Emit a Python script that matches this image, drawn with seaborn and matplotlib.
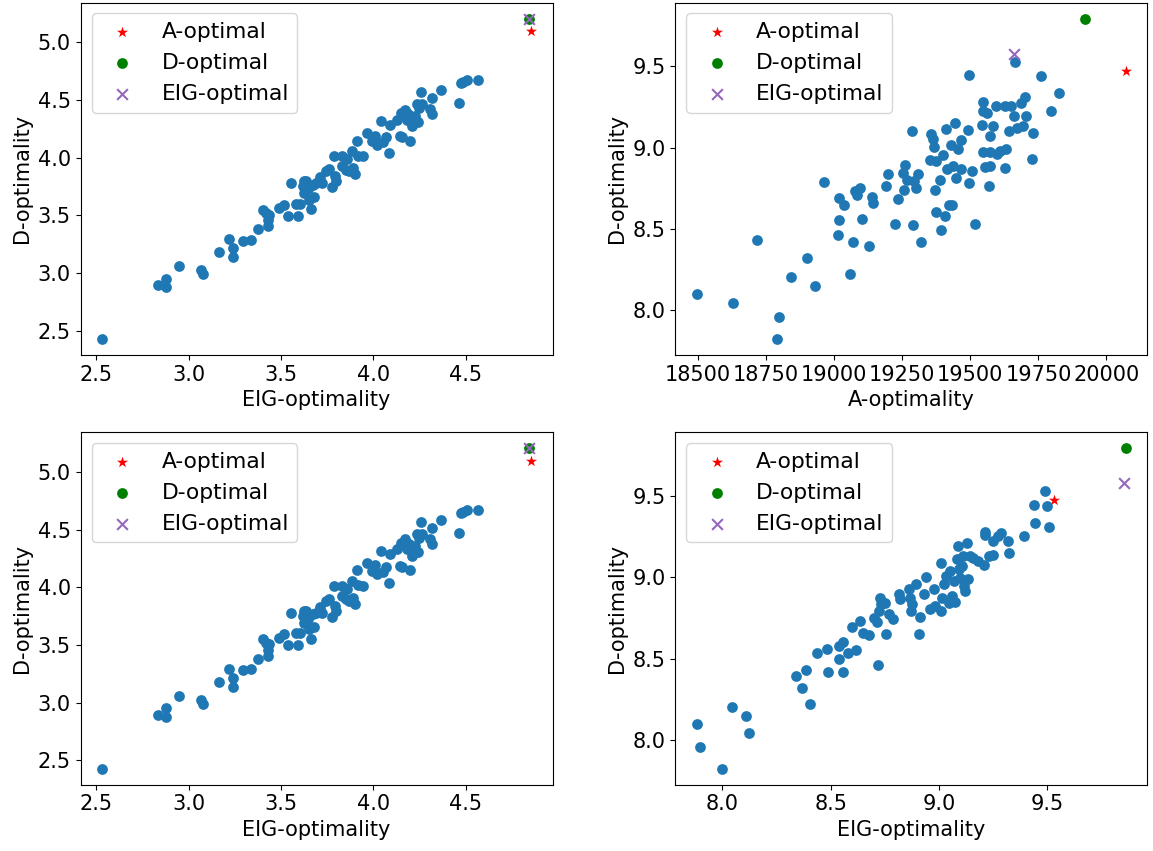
import numpy as np
import seaborn as sns
import matplotlib.pyplot as plt

# left column (same data in both rows): EIG-optimality vs D-optimality
eig1 = [2.532, 2.833, 2.878, 2.875, 2.950, 3.068, 3.077, 3.163, 3.221, 3.239,
        3.239, 3.296, 3.338, 3.374, 3.405, 3.419, 3.437, 3.428, 3.428, 3.491,
        3.514, 3.536, 3.554, 3.581, 3.595, 3.603, 3.617, 3.626, 3.635, 3.644,
        3.653, 3.662, 3.671, 3.677, 3.689, 3.713, 3.725, 3.743, 3.761, 3.775,
        3.785, 3.791, 3.797, 3.830, 3.832, 3.850, 3.860, 3.866, 3.887, 3.892,
        3.899, 3.914, 3.919, 3.947, 3.968, 3.995, 4.010, 4.019, 4.041, 4.055,
        4.068, 4.086, 4.091, 4.127, 4.143, 4.152, 4.158, 4.173, 4.185, 4.194,
        4.197, 4.212, 4.224, 4.235, 4.244, 4.248, 4.257, 4.266, 4.307, 4.316,
        4.320, 4.365, 4.464, 4.473, 4.486, 4.505, 4.568, 3.626, 4.185, 4.203]
d1 = [2.428, 2.893, 2.951, 2.876, 3.058, 3.023, 2.991, 3.182, 3.295, 3.214,
      3.139, 3.280, 3.289, 3.379, 3.549, 3.520, 3.506, 3.454, 3.405, 3.564,
      3.592, 3.497, 3.780, 3.601, 3.497, 3.601, 3.751, 3.694, 3.795, 3.723,
      3.636, 3.555, 3.766, 3.656, 3.780, 3.832, 3.780, 3.882, 3.902, 3.743,
      4.012, 3.838, 3.795, 4.012, 3.925, 3.896, 3.983, 3.882, 4.055, 3.910,
      3.853, 4.147, 4.017, 4.012, 4.214, 4.142, 4.191, 4.113, 4.315, 4.133,
      4.176, 4.040, 4.286, 4.329, 4.185, 4.387, 4.179, 4.416, 4.329, 4.373,
      4.147, 4.272, 4.358, 4.460, 4.306, 4.431, 4.566, 4.460, 4.422, 4.517,
      4.379, 4.584, 4.474, 4.647, 4.653, 4.668, 4.668, 3.795, 4.387, 4.315]

# top right: A-optimality vs D-optimality
aopt2 = [18495, 18628, 18715, 18797, 18788, 18842, 18901, 18931, 18962, 19013,
         19019, 19019, 19037, 19057, 19068, 19078, 19084, 19096, 19102, 19127,
         19139, 19142, 19190, 19196, 19222, 19233, 19252, 19255, 19261, 19267,
         19285, 19289, 19294, 19301, 19307, 19320, 19350, 19355, 19362, 19365,
         19371, 19374, 19374, 19389, 19393, 19399, 19407, 19411, 19416, 19423,
         19432, 19428, 19437, 19443, 19447, 19455, 19467, 19467, 19492, 19495,
         19495, 19507, 19516, 19541, 19545, 19547, 19560, 19547, 19553, 19569,
         19571, 19571, 19571, 19584, 19596, 19599, 19608, 19626, 19626, 19632,
         19642, 19648, 19660, 19665, 19672, 19687, 19694, 19700, 19704, 19725,
         19729, 19759, 19795, 19825]
d2 = [8.102, 8.043, 8.430, 7.961, 7.826, 8.207, 8.323, 8.150, 8.788, 8.463,
      8.553, 8.692, 8.645, 8.225, 8.418, 8.733, 8.712, 8.753, 8.559, 8.395,
      8.698, 8.661, 8.763, 8.838, 8.534, 8.686, 8.845, 8.737, 8.896, 8.804,
      9.101, 8.528, 8.794, 8.753, 8.838, 8.422, 8.927, 9.085, 9.054, 9.005,
      8.743, 8.917, 8.606, 8.804, 8.497, 8.958, 8.579, 9.115, 8.867, 8.647,
      8.647, 9.018, 8.886, 9.152, 8.815, 8.989, 9.050, 8.866, 9.111, 9.449,
      8.784, 8.855, 8.534, 9.142, 9.279, 9.224, 9.213, 8.973, 8.880, 8.763,
      9.074, 8.886, 8.973, 9.132, 9.254, 8.964, 8.978, 9.259, 8.876, 8.989,
      9.101, 9.254, 9.193, 9.527, 9.121, 9.275, 9.136, 9.312, 9.193, 8.931,
      9.091, 9.443, 9.224, 9.336]

# bottom right: EIG-optimality vs D-optimality
eig4 = [7.882, 7.896, 8.000, 8.046, 8.107, 8.123, 8.342, 8.368, 8.387, 8.404,
        8.435, 8.481, 8.488, 8.537, 8.540, 8.556, 8.556, 8.579, 8.617, 8.599,
        8.637, 8.649, 8.676, 8.699, 8.714, 8.717, 8.722, 8.726, 8.732, 8.752,
        8.757, 8.768, 8.788, 8.814, 8.821, 8.860, 8.864, 8.871, 8.875, 8.895,
        8.906, 8.914, 8.932, 8.941, 8.960, 8.978, 8.983, 9.009, 9.010, 9.013,
        9.021, 9.033, 9.044, 9.052, 9.059, 9.070, 9.075, 9.082, 9.086, 9.090,
        9.098, 9.105, 9.110, 9.116, 9.121, 9.129, 9.136, 9.144, 9.159, 9.178,
        9.208, 9.213, 9.213, 9.233, 9.248, 9.251, 9.274, 9.286, 9.320, 9.325,
        9.393, 9.440, 9.443, 9.489, 9.497, 9.509]
d4 = [8.102, 7.961, 7.826, 8.207, 8.150, 8.043, 8.395, 8.323, 8.430, 8.225,
      8.534, 8.559, 8.418, 8.497, 8.579, 8.606, 8.422, 8.534, 8.553, 8.698,
      8.733, 8.661, 8.645, 8.753, 8.726, 8.463, 8.794, 8.876, 8.835, 8.845,
      8.651, 8.774, 8.747, 8.896, 8.866, 8.931, 8.876, 8.794, 8.835, 8.958,
      8.651, 8.757, 8.900, 9.002, 8.804, 8.927, 8.825, 9.090, 8.794, 8.876,
      8.958, 9.008, 8.845, 9.039, 8.886, 8.978, 8.849, 9.111, 9.193, 9.050,
      8.999, 9.070, 9.132, 8.947, 8.917, 9.213, 8.989, 9.132, 9.121, 9.101,
      9.074, 9.279, 9.259, 9.132, 9.136, 9.224, 9.254, 9.271, 9.224, 9.152,
      9.254, 9.447, 9.336, 9.529, 9.439, 9.312]

# optimal designs: (x, y) for A-optimal, D-optimal, EIG-optimal
opt_left = [(4.855, 5.095), (4.841, 5.205), (4.841, 5.205)]
opt_tr = [(20071, 9.473), (19920, 9.793), (19661, 9.578)]
opt_br = [(9.532, 9.473), (9.862, 9.793), (9.853, 9.578)]

plt.rcParams['font.size'] = 15

fig, axes = plt.subplots(2, 2, figsize=(11.53, 8.51), dpi=100)
fig.subplots_adjust(left=0.070, right=0.995, top=0.997, bottom=0.078,
                    wspace=0.26, hspace=0.22)

panels = [
    (axes[0, 0], eig1, d1, opt_left, 'EIG-optimality'),
    (axes[0, 1], aopt2, d2, opt_tr, 'A-optimality'),
    (axes[1, 0], eig1, d1, opt_left, 'EIG-optimality'),
    (axes[1, 1], eig4, d4, opt_br, 'EIG-optimality'),
]

for ax, xs, ys, opt, xlabel in panels:
    sns.scatterplot(x=xs, y=ys, ax=ax, color='#1f77b4', s=60, linewidth=0)
    sns.scatterplot(x=[opt[0][0]], y=[opt[0][1]], ax=ax, marker='*',
                    color='red', s=70, linewidth=0, label='A-optimal')
    sns.scatterplot(x=[opt[1][0]], y=[opt[1][1]], ax=ax, marker='o',
                    color='green', s=60, linewidth=0, label='D-optimal')
    sns.scatterplot(x=[opt[2][0]], y=[opt[2][1]], ax=ax, marker='x',
                    color='tab:purple', s=60, linewidth=1.5, label='EIG-optimal')
    ax.set_xlabel(xlabel)
    ax.set_ylabel('D-optimality')
    ax.legend(loc='upper left', fontsize=15.7)

plt.savefig('out.png')
